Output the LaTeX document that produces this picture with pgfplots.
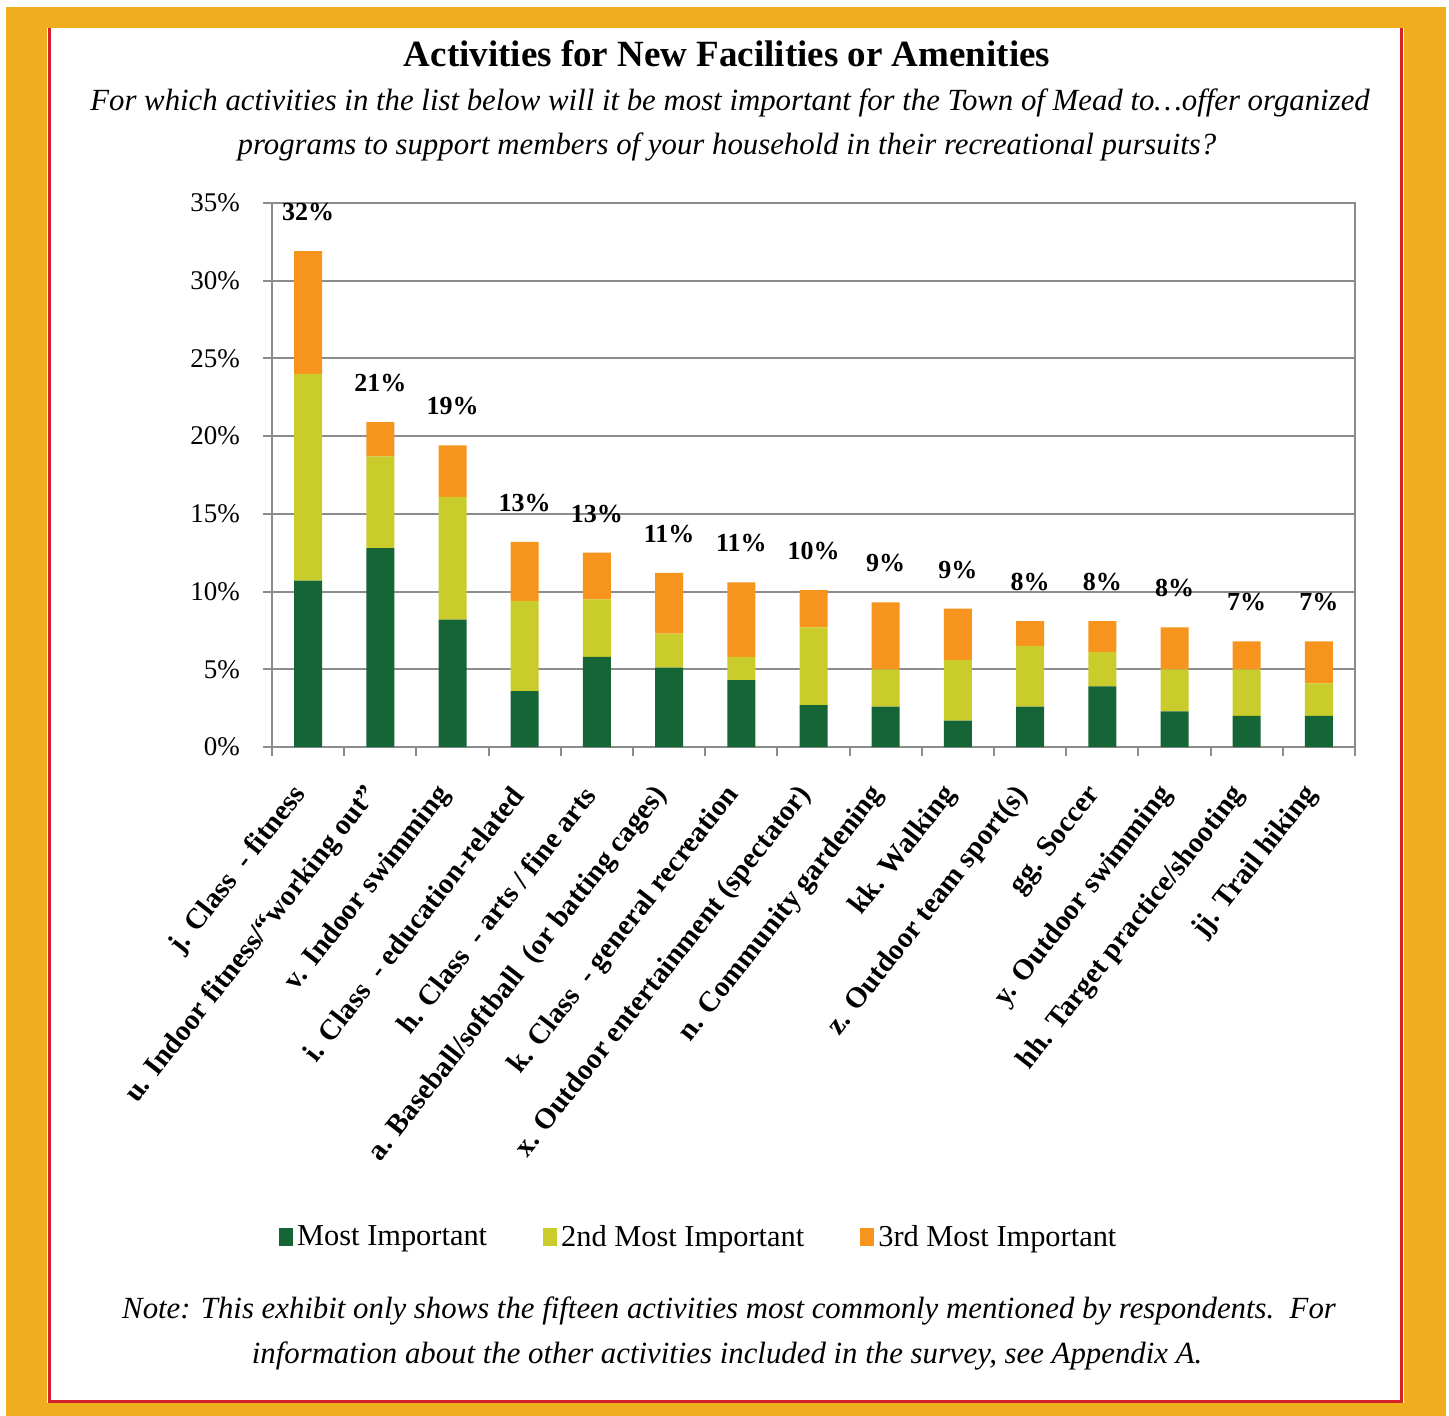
\documentclass[border=0pt]{standalone}
\usepackage{fontspec}
\setmainfont{Liberation Serif}
\usepackage{pgfplots}
\pgfplotsset{compat=1.18}
\usepackage{pgfplotstable}

\definecolor{cG}{RGB}{21,101,54}
\definecolor{cY}{RGB}{201,204,42}
\definecolor{cO}{RGB}{247,148,29}
\definecolor{frameO}{RGB}{240,174,30}
\definecolor{redline}{RGB}{210,35,42}
\definecolor{gridgray}{RGB}{140,140,140}

\pgfplotstableread{
idx g y o t lab
0 10.7 13.3 7.9 31.9 32
1 12.8 5.9 2.2 20.9 21
2 8.2 7.9 3.3 19.4 19
3 3.6 5.8 3.8 13.2 13
4 5.8 3.7 3.0 12.5 13
5 5.1 2.2 3.9 11.2 11
6 4.3 1.5 4.8 10.6 11
7 2.7 5.0 2.4 10.1 10
8 2.6 2.4 4.3 9.3 9
9 1.7 3.9 3.3 8.9 9
10 2.6 3.9 1.6 8.1 8
11 3.9 2.2 2.0 8.1 8
12 2.3 2.7 2.7 7.7 8
13 2.0 3.0 1.8 6.8 7
14 2.0 2.1 2.7 6.8 7
}\datatable

\begin{document}
\begin{tikzpicture}
\begin{scope}[x=0.5pt,y=-0.5pt]
\fill[white] (0,0) rectangle (1449,1416);
\fill[frameO] (6,7) rectangle (1446,1416);
\fill[white] (47,28) rectangle (1404,1403);
\draw[redline,line width=1.1pt] (49.5,28) -- (49.5,1401.5) -- (1401.5,1401.5) -- (1401.5,28);
\node[anchor=base,font=\bfseries\fontsize{18.5}{22}\selectfont] at (727,67) {Activities for New Facilities or Amenities};
\node[anchor=base,font=\itshape\fontsize{15.4}{18}\selectfont] at (730,111) {For which activities in the list below will it be most important for the Town of Mead to…offer organized};
\node[anchor=base,font=\itshape\fontsize{15.4}{18}\selectfont] at (727,155) {programs to support members of your household in their recreational pursuits?};
\node[anchor=base,font=\itshape\fontsize{15.4}{18}\selectfont] at (729,1318) {Note: This exhibit only shows the fifteen activities most commonly mentioned by respondents.\ \ For};
\node[anchor=base,font=\itshape\fontsize{15.4}{18}\selectfont] at (727,1363) {information about the other activities included in the survey, see Appendix A.};
\end{scope}
\begin{axis}[
  at={(136pt,-373.5pt)}, anchor=south west,
  scale only axis, width=541.5pt, height=272pt,
  ybar stacked, bar width=14pt,
  xmin=-0.5, xmax=14.5, ymin=0, ymax=35,
  enlargelimits=false,
  xtick={0,...,14},
  xticklabels={j. Class\ \ - fitness, u. Indoor fitness/“working out”, v. Indoor swimming, i. Class\ \ - education-related, h. Class\ \ - arts / fine arts, a. Baseball/softball\ \ (or batting cages), k. Class\ \ - general recreation, x. Outdoor entertainment (spectator), n. Community gardening, kk. Walking, z. Outdoor team sport(s), gg. Soccer, y. Outdoor swimming, hh. Target practice/shooting, jj. Trail hiking},
  minor xtick={-0.5,0.5,...,14.5},
  ytick={0,5,...,35},
  yticklabels={0\%,5\%,10\%,15\%,20\%,25\%,30\%,35\%},
  tick pos=left,
  tick align=outside,
  major tick length=4.5pt, minor tick length=4.5pt,
  major x tick style={draw=none},
  minor x tick style={gridgray,line width=1pt},
  ytick style={gridgray,line width=1pt},
  ymajorgrids, grid style={gridgray,line width=1pt},
  axis line style={gridgray,line width=1pt},
  yticklabel style={font=\fontsize{13.5}{16}\selectfont, xshift=-8pt},
  xticklabel style={font=\bfseries\fontsize{14.5}{17}\selectfont, xshift=-3.5pt, yshift=-17pt, rotate=52, anchor=east, inner sep=0pt},
  legend style={at={(0.395,-0.9007)}, anchor=center, draw=none, fill=none, legend columns=3,
    font=\fontsize{15.2}{18}\selectfont,
    /tikz/every even column/.append style={column sep=26pt}},
  legend image code/.code={\fill[#1] (0pt,-4.5pt) rectangle (7pt,4.5pt);},
]
\addplot[fill=cG,draw=none] table[x=idx,y=g]{\datatable};
\addplot[fill=cY,draw=none] table[x=idx,y=y]{\datatable};
\addplot[fill=cO,draw=none] table[x=idx,y=o]{\datatable};
\legend{Most Important, 2nd Most Important, 3rd Most Important}
\end{axis}
\begin{axis}[
  at={(136pt,-373.5pt)}, anchor=south west,
  scale only axis, width=541.5pt, height=272pt,
  xmin=-0.5, xmax=14.5, ymin=0, ymax=35,
  enlargelimits=false, hide axis, clip=false,
]
\addplot[draw=none, mark=none,
  point meta=explicit symbolic,
  nodes near coords={\pgfplotspointmeta\%},
  every node near coord/.append style={font=\bfseries\fontsize{13}{15}\selectfont, anchor=center, yshift=19.5pt, black}]
  table[x=idx,y=t,meta=lab]{\datatable};
\end{axis}
\end{tikzpicture}
\end{document}
